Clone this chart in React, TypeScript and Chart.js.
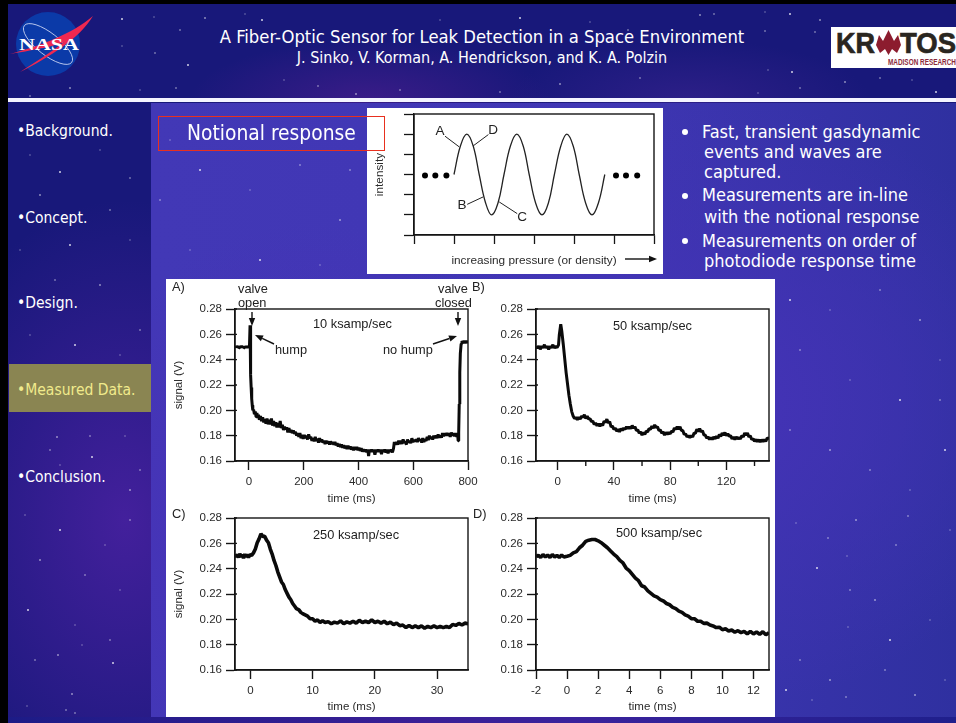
import React, { useEffect, useRef } from "react";
import { Chart, registerables } from "chart.js";

Chart.register(...registerables);

const FONT = '"Liberation Sans", Arial, sans-serif';
const SLIDE = '"DejaVu Sans Condensed", "Noto Sans", sans-serif';

const signalTicks = [0.16, 0.18, 0.2, 0.22, 0.24, 0.26, 0.28];
const ticksA = [0, 200, 400, 600, 800];
const ticksB = [0, 40, 80, 120];
const minorB = [20, 60, 100, 140];
const ticksC = [0, 10, 20, 30];
const ticksD = [-2, 0, 2, 4, 6, 8, 10, 12];

type P = [number, number];

const traceA: P[] = [
  [-51,.2505],[-48,.2496],[-45,.2506],[-42,.2497],[-39,.2504],[-36,.2495],[-33,.2506],[-30,.2497],[-27,.2507],[-24,.2496],[-21,.2503],[-18,.2495],[-15,.2506],[-12,.2497],[-9,.2505],[-6,.2495],[-3,.2506],[0,.2497],[2,.252],[4,.2672],[5,.258],[6,.242],[7,.228],[8,.218],[10,.209],[12,.204],[14,.2],
  [17,.2005],[20,.197],[23,.199],[26,.195],[29,.198],[32,.194],[35,.1965],[38,.1925],[42,.1955],[46,.1915],[50,.1945],[54,.1905],[58,.193],[62,.1895],[66,.1935],[70,.189],[74,.1925],[78,.189],[82,.1935],[86,.188],[90,.1915],[94,.1875],[98,.1905],[102,.1865],[106,.19],[110,.1865],[114,.1915],[118,.186],[122,.1885],[126,.1845],[130,.187],[134,.185],[138,.1865],[142,.1825],[146,.186],[150,.1825],[154,.1845],[158,.182],[162,.184],[166,.1815],[170,.183],[174,.18],[178,.182],[182,.179],[186,.182],[190,.178],[194,.1805],[198,.1775],[202,.1805],[206,.178],[210,.18],[214,.177],[218,.181],[222,.178],[226,.179],[230,.176],[234,.178],[238,.1755],[242,.179],[246,.176],[250,.1775],[254,.1745],[258,.178],[262,.175],[266,.177],[270,.1745],[274,.176],[278,.1735],[282,.176],[286,.174],[290,.1755],[294,.173],[298,.1755],[302,.1735],[306,.175],[310,.173],[314,.175],[318,.1725],[322,.174],[326,.1715],[330,.1735],[334,.171],[338,.173],[342,.1705],[346,.1725],[350,.17],[354,.172],[358,.1695],[362,.172],[366,.1695],[370,.1715],[374,.169],[378,.171],[382,.1685],[386,.171],[390,.169],[394,.171],[398,.1685],[402,.1705],[406,.168],[410,.17],[414,.1675],[418,.169],[422,.1675],[426,.169],[430,.167],[434,.169],[437,.164],[440,.169],[444,.1672],[448,.169],[452,.1672],[456,.169],[460,.165],[464,.169],[468,.1672],[472,.169],[476,.1672],[480,.169],[484,.1655],[488,.169],[492,.1672],[496,.169],[500,.1668],[504,.169],[508,.166],[512,.169],[516,.1672],[520,.169],[524,.1668],[528,.17],
  [531,.175],[535,.173],[539,.175],[543,.173],[547,.176],[551,.1735],[555,.176],[559,.1735],[563,.177],[567,.1745],[571,.175],[575,.173],[579,.177],[583,.1745],[587,.176],[591,.174],[595,.178],[599,.175],[603,.1765],[607,.1755],[611,.177],[615,.175],[619,.178],[623,.176],[627,.177],[631,.1745],[635,.178],[639,.175],[643,.177],[647,.176],[651,.179],[655,.1765],[659,.18],[663,.1775],[667,.179],[671,.177],[675,.18],[679,.178],[683,.18],[687,.178],[691,.181],[695,.1785],[699,.18],[703,.1785],[707,.182],[711,.1795],[715,.182],[719,.18],[723,.182],[727,.18],[731,.182],[735,.179],[739,.1825],[743,.18],[747,.182],[751,.1795],[755,.182],[759,.179],[762,.1815],[764,.176],[766,.182],[768,.205],[770,.23],[772,.245],[775,.2525],[778,.2548],[782,.2532],[786,.2548],[790,.2532],[794,.2548],[797,.2532],[800,.2548],
];

const traceB: P[] = [
  [-15.4,.2505],[-14.4,.2492],[-13.4,.2508],[-12.4,.2482],[-11.4,.2506],[-10.4,.2494],[-9.4,.2518],[-8.4,.2492],[-7.4,.2508],[-6.4,.248],[-5.4,.2506],[-4.4,.2494],[-3.4,.2518],[-2.4,.2492],[-1.4,.2506],[-.4,.2495],[.6,.2515],[1.2,.26],[2.2,.268],[3,.262],[4,.252],[5,.241],[6,.23],[7,.221],[8,.212],[9,.205],[10,.199],[11,.1955],[12,.1935],[13,.1945],[14,.1925],[15,.1945],[16,.193],[17,.1955],[18,.1945],[19,.1965],[20,.1935],[21,.1955],[22,.193],[23,.1935],[24,.191],[25,.1915],[26,.189],[27,.19],[28,.1878],[29,.1895],[30,.1875],[31,.1895],[32,.188],[33,.1915],[34,.1905],[35,.193],[36,.19],[37,.191],[38,.187],[39,.1875],[40,.185],[41,.186],[42,.1835],[43,.185],[44,.183],[45,.1855],[46,.1842],[47,.186],[48,.185],[49,.187],[50,.1855],[51,.187],[52,.1855],[53,.188],[54,.186],[55,.187],[56,.184],[57,.1845],[58,.182],[59,.183],[60,.1805],[61,.1825],[62,.181],[63,.1835],[64,.183],[65,.1855],[66,.185],[67,.1875],[68,.186],[69,.1885],[70,.1865],[71,.187],[72,.184],[73,.1845],[74,.182],[75,.183],[76,.1805],[77,.1825],[78,.181],[79,.1825],[80,.1815],[81,.1835],[82,.183],[83,.186],[84,.185],[85,.187],[86,.185],[87,.187],[88,.184],[89,.184],[90,.181],[91,.1815],[92,.179],[93,.18],[94,.1785],[95,.18],[96,.179],[97,.182],[98,.182],[99,.185],[100,.1835],[101,.1855],[102,.183],[103,.184],[104,.1805],[105,.1805],[106,.178],[107,.179],[108,.177],[109,.1785],[110,.177],[111,.179],[112,.1775],[113,.1795],[114,.178],[115,.181],[116,.1795],[117,.182],[118,.1805],[119,.1825],[120,.18],[121,.1815],[122,.1795],[123,.18],[124,.1775],[125,.179],[126,.177],[127,.179],[128,.1775],[129,.1785],[130,.1775],[131,.18],[132,.179],[133,.182],[134,.1805],[135,.182],[136,.179],[137,.18],[138,.177],[139,.1775],[140,.1755],[141,.177],[142,.1752],[143,.1768],[144,.175],[145,.1768],[146,.1752],[147,.1768],[148,.1755],[149,.178],[150.3,.178],
];

const traceC: P[] = [
  [-2.5,.2515],[-2.3,.2492],[-2.1,.2512],[-1.9,.2488],[-1.7,.2518],[-1.5,.2492],[-1.3,.2512],[-1.1,.2482],[-.9,.2515],[-.7,.2492],[-.5,.2512],[-.3,.2488],[-.1,.251],[.2,.2505],[.5,.2525],[.8,.2555],[1.1,.2605],[1.4,.2635],[1.7,.2675],[2,.2655],[2.3,.2655],[2.6,.2625],[2.9,.2605],[3.2,.2555],[3.5,.2515],[3.8,.2465],[4.1,.2425],[4.4,.2375],[4.7,.2335],[5,.2295],[5.3,.2275],[5.6,.2235],[5.9,.2205],[6.2,.2175],[6.5,.2155],[6.8,.2125],[7.1,.2105],[7.4,.2085],[7.8,.2075],[8.1,.2055],[8.4,.2045],[8.8,.2035],[9.2,.2025],[9.6,.2005],[10,.2005],[10.4,.1985],[10.8,.1995],[11.2,.1975],[11.6,.1988],[12,.1975],[12.5,.1982],[13,.1965],[13.5,.1978],[14,.197],[14.5,.1988],[15,.1965],[15.5,.198],[16,.197],[16.5,.1985],[17,.197],[17.5,.1992],[18,.1975],[18.5,.1985],[19,.1975],[19.5,.1995],[20,.1975],[20.5,.1985],[21,.197],[21.5,.1985],[22,.1965],[22.5,.1978],[23,.1958],[23.5,.197],[24,.195],[24.5,.1955],[25,.1935],[25.5,.1952],[26,.1935],[26.5,.1948],[27,.1935],[27.5,.1948],[28,.193],[28.5,.1945],[29,.1935],[29.5,.1948],[30,.1935],[30.5,.1945],[31,.1935],[31.5,.1945],[32,.1935],[32.5,.196],[33,.1952],[33.5,.1968],[34,.1955],[34.5,.197],[35,.1965],
];

const traceD: P[] = [
  [-2,.2495],[-1.85,.2505],[-1.7,.2488],[-1.55,.2512],[-1.4,.2492],[-1.25,.2508],[-1.1,.2488],[-.95,.2512],[-.8,.2492],[-.65,.2505],[-.5,.2488],[-.35,.2508],[-.2,.2492],[0,.2498],[.2,.2505],[.4,.2525],[.6,.2535],[.8,.2565],[1,.2585],[1.2,.2615],[1.4,.2625],[1.6,.263],[1.8,.263],[2,.262],[2.2,.2605],[2.4,.2585],[2.6,.2565],[2.8,.254],[3,.2515],[3.2,.2495],[3.4,.2465],[3.6,.2445],[3.8,.2405],[4,.2385],[4.2,.2355],[4.4,.2325],[4.6,.2305],[4.8,.2265],[5,.2255],[5.2,.2225],[5.4,.2205],[5.6,.2185],[5.8,.2175],[6,.2155],[6.2,.2145],[6.4,.2125],[6.6,.2115],[6.8,.2095],[7,.2085],[7.2,.2065],[7.4,.2055],[7.6,.2035],[7.8,.2025],[8,.2005],[8.2,.2005],[8.4,.1985],[8.6,.1985],[8.8,.1968],[9,.197],[9.2,.1955],[9.4,.1948],[9.6,.1935],[9.8,.1938],[10,.1918],[10.2,.1925],[10.4,.1908],[10.6,.1915],[10.8,.1898],[11,.191],[11.2,.1895],[11.4,.1905],[11.6,.1885],[11.8,.1905],[12,.1885],[12.2,.19],[12.4,.1882],[12.6,.1902],[12.8,.1878],[13,.1895],
];

const curveN: P[] = [
  [1,3],[1.16,4.41],[1.32,5],[1.48,4.41],[1.63,3],[1.79,1.59],[1.94,1],[2.1,1.59],[2.25,3],[2.41,4.41],[2.57,5],[2.73,4.41],[2.88,3],[3.04,1.59],[3.2,1],[3.36,1.59],[3.51,3],[3.67,4.41],[3.82,5],[3.98,4.41],[4.13,3],[4.29,1.59],[4.45,1],[4.61,1.59],[4.77,3],
];
const dotsN: P[] = [[0.275,2.95],[0.533,2.95],[0.81,2.95],[5.05,2.95],[5.3,2.95],[5.58,2.95]];
const leadersN: P[][] = [
  [[0.775,4.9],[1.13,4.37]],
  [[1.86,4.98],[1.48,4.42]],
  [[1.33,1.52],[1.73,1.89]],
  [[2.58,1.06],[2.13,1.64]],
];
const ticksN = [0, 1, 2, 3, 4, 5, 6];

const menu = [
  { label: "•Background.", y: 132 },
  { label: "•Concept.", y: 219 },
  { label: "•Design.", y: 304 },
  { label: "•Measured Data.", y: 391, hi: true },
  { label: "•Conclusion.", y: 478 },
];
const bullets = [
  { t: "Fast, transient gasdynamic", x: 702, y: 132 },
  { t: "events and waves are", x: 704, y: 152 },
  { t: "captured.", x: 704, y: 172 },
  { t: "Measurements are in-line", x: 702, y: 195 },
  { t: "with the notional response", x: 704, y: 217 },
  { t: "Measurements on order of", x: 702, y: 241 },
  { t: "photodiode response time", x: 704, y: 261 },
];
const bulletDots = [132, 196, 241];

const chartTexts = [
  { t: "A)", x: 172, y: 287 },
  { t: "B)", x: 472, y: 287 },
  { t: "C)", x: 172, y: 514 },
  { t: "D)", x: 473, y: 514 },
  { t: "valve", x: 238, y: 289 },
  { t: "open", x: 238, y: 303 },
  { t: "valve", x: 438, y: 289 },
  { t: "closed", x: 435, y: 303 },
  { t: "hump", x: 275, y: 350 },
  { t: "no hump", x: 383, y: 350 },
  { t: "10 ksamp/sec", x: 313, y: 324 },
  { t: "50 ksamp/sec", x: 613, y: 326 },
  { t: "250 ksamp/sec", x: 313, y: 535 },
  { t: "500 ksamp/sec", x: 616, y: 533 },
];
const curveLabels = [
  { t: "A", x: 440, y: 131 },
  { t: "D", x: 493, y: 130 },
  { t: "B", x: 462, y: 205 },
  { t: "C", x: 522, y: 217 },
];

const stars: P[] = [
  [122,19],[154,17],[180,30],[205,18],[155,53],[122,46],[188,65],[140,90],[176,88],[70,88],[30,96],[245,14],[262,20],[284,80],[318,86],[356,94],[400,90],[440,20],[520,18],[590,22],[628,30],[700,15],[714,14],[765,12],[790,14],[700,31],[765,31],[820,20],[815,32],[768,70],[792,72],[758,93],[800,88],[845,82],[880,78],[912,80],[936,92],[600,62],[640,78],[560,84],[500,92],
  [30,155],[60,172],[100,150],[130,178],[40,195],[110,210],[20,250],[70,245],[130,240],[55,280],[100,285],[140,330],[30,335],[75,345],[120,355],[90,436],[57,437],[50,450],[125,436],[92,457],[60,465],[66,482],[130,490],[140,470],[25,515],[60,530],[105,545],[130,520],[40,560],[85,575],[120,590],[28,610],[75,625],[110,640],[58,655],[35,660],[82,645],[113,663],[27,706],[75,713],[72,694],[66,710],
  [170,140],[200,170],[250,190],[300,165],[340,220],[160,200],[190,250],[260,260],[320,265],[350,170],[680,100],[700,280],[720,300],[790,300],[830,310],[880,290],[920,320],[800,350],[850,380],[900,400],[940,360],[790,430],[830,450],[870,470],[910,490],[945,450],[796,523],[828,538],[856,520],[908,516],[950,530],[817,568],[847,556],[896,545],[875,600],[850,590],[848,627],[890,640],[930,620],[800,660],[830,680],[885,670],[945,680],[786,690],[812,700],[846,697],[915,695],[940,400],[700,310],[690,420],[700,600],
];

const framePlugin = (minor: number[], nub: boolean) => ({
  id: "frame",
  afterDatasetsDraw(chart: any) {
    const { ctx, chartArea: a, scales } = chart;
    ctx.save();
    ctx.strokeStyle = "#151515";
    ctx.lineWidth = 1.4;
    ctx.strokeRect(a.left, a.top, a.right - a.left, a.bottom - a.top);
    minor.forEach((v) => {
      const px = scales.x.getPixelForValue(v);
      ctx.beginPath();
      ctx.moveTo(px, a.bottom);
      ctx.lineTo(px, a.bottom + 5);
      ctx.stroke();
    });
    if (nub) {
      scales.y.ticks.forEach((t: any) => {
        const py = scales.y.getPixelForValue(t.value);
        ctx.beginPath();
        ctx.moveTo(a.left, py);
        ctx.lineTo(a.left + 2, py);
        ctx.stroke();
      });
    }
    ctx.restore();
  },
});

type Box = { x: number; y: number; w: number; h: number; plotL: number; plotR: number; plotT: number; plotB: number };

function useChart(ref: React.RefObject<HTMLCanvasElement | null>, build: () => any) {
  useEffect(() => {
    if (!ref.current) return;
    const c = new Chart(ref.current, build());
    return () => c.destroy();
  }, []);
}

function axisFit(size: number, horizontal: boolean) {
  return (s: any) => {
    if (horizontal) s.height = size;
    else s.width = size;
    s.paddingLeft = 0;
    s.paddingRight = 0;
    s.paddingTop = 0;
    s.paddingBottom = 0;
  };
}

function Trace(props: {
  box: Box;
  data: P[];
  xMin: number;
  xMax: number;
  xTicks: number[];
  minor?: number[];
  yTitle: boolean;
  weight: number;
}) {
  const ref = useRef<HTMLCanvasElement>(null);
  const { box, data, xMin, xMax, xTicks, minor, yTitle, weight } = props;
  useChart(ref, () => ({
    type: "scatter",
    data: {
      datasets: [
        {
          data: data.map(([x, y]) => ({ x, y })),
          showLine: true,
          borderColor: "#0a0a0a",
          borderWidth: weight,
          borderJoinStyle: "bevel",
          pointRadius: 0,
          tension: 0,
        },
      ],
    },
    plugins: [framePlugin(minor || [], true)],
    options: {
      animation: false,
      responsive: false,
      events: [],
      layout: {
        padding: {
          left: 0,
          top: box.plotT - box.y,
          right: box.x + box.w - box.plotR,
          bottom: 0,
        },
      },
      plugins: { legend: { display: false }, tooltip: { enabled: false } },
      scales: {
        x: {
          type: "linear",
          min: xMin,
          max: xMax,
          afterBuildTicks: (s: any) => {
            s.ticks = xTicks.map((value) => ({ value }));
          },
          afterFit: axisFit(box.y + box.h - box.plotB, true),
          grid: { drawOnChartArea: false, tickLength: 9, tickWidth: 1.4, tickColor: "#151515" },
          border: { color: "#151515", width: 1.4 },
          ticks: {
            autoSkip: false,
            maxRotation: 0,
            padding: 5,
            color: "#2a2a2a",
            font: { family: FONT, size: 11.5 },
            callback: (v: any) => String(v),
          },
          title: {
            display: true,
            text: "time (ms)",
            color: "#2a2a2a",
            font: { family: FONT, size: 11.5 },
            padding: { top: 0, bottom: 0 },
          },
        },
        y: {
          type: "linear",
          min: 0.16,
          max: 0.28,
          afterBuildTicks: (s: any) => {
            s.ticks = signalTicks.map((value) => ({ value }));
          },
          afterFit: axisFit(box.plotL - box.x, false),
          grid: { drawOnChartArea: false, tickLength: 9, tickWidth: 1.4, tickColor: "#151515" },
          border: { color: "#151515", width: 1.4 },
          ticks: {
            padding: 4,
            color: "#2a2a2a",
            font: { family: FONT, size: 11.5 },
            callback: (v: any) => Number(v).toFixed(2),
          },
          title: {
            display: yTitle,
            text: "signal (V)",
            color: "#2a2a2a",
            font: { family: FONT, size: 11.5 },
            padding: { top: 6, bottom: 0 },
          },
        },
      },
    },
  }));
  return (
    <canvas
      ref={ref}
      width={box.w}
      height={box.h}
      style={{ position: "absolute", left: box.x, top: box.y, width: box.w, height: box.h }}
    />
  );
}

function Notional() {
  const ref = useRef<HTMLCanvasElement>(null);
  const box: Box = { x: 367, y: 108, w: 296, h: 166, plotL: 414, plotR: 654, plotT: 114, plotB: 235 };
  useChart(ref, () => ({
    type: "scatter",
    data: {
      datasets: [
        {
          data: curveN.map(([x, y]) => ({ x, y })),
          showLine: true,
          borderColor: "#222",
          borderWidth: 1.3,
          pointRadius: 0,
          tension: 0.4,
        },
        {
          data: dotsN.map(([x, y]) => ({ x, y })),
          showLine: false,
          pointRadius: 3,
          pointBackgroundColor: "#000",
          pointBorderWidth: 0,
        },
        ...leadersN.map((l) => ({
          data: l.map(([x, y]) => ({ x, y })),
          showLine: true,
          borderColor: "#222",
          borderWidth: 1,
          pointRadius: 0,
        })),
      ],
    },
    plugins: [framePlugin([], false)],
    options: {
      animation: false,
      responsive: false,
      events: [],
      layout: {
        padding: { left: 0, top: box.plotT - box.y, right: box.x + box.w - box.plotR, bottom: 0 },
      },
      plugins: { legend: { display: false }, tooltip: { enabled: false } },
      scales: {
        x: {
          type: "linear",
          min: 0,
          max: 6,
          afterBuildTicks: (s: any) => {
            s.ticks = ticksN.map((value) => ({ value }));
          },
          afterFit: axisFit(box.y + box.h - box.plotB, true),
          grid: { drawOnChartArea: false, tickLength: 9, tickWidth: 1.3, tickColor: "#151515" },
          border: { color: "#151515", width: 1.3 },
          ticks: { callback: () => "", padding: 0 },
          title: {
            display: true,
            text: "increasing pressure (or density)",
            color: "#2a2a2a",
            font: { family: FONT, size: 11.8 },
            padding: { top: 0, bottom: 6 },
          },
        },
        y: {
          type: "linear",
          min: 0,
          max: 6,
          afterBuildTicks: (s: any) => {
            s.ticks = ticksN.map((value) => ({ value }));
          },
          afterFit: axisFit(box.plotL - box.x, false),
          grid: { drawOnChartArea: false, tickLength: 10, tickWidth: 1.3, tickColor: "#151515" },
          border: { color: "#151515", width: 1.3 },
          ticks: { callback: () => "", padding: 0 },
          title: {
            display: true,
            text: "intensity",
            color: "#2a2a2a",
            font: { family: FONT, size: 11.8 },
            padding: { top: 6, bottom: 0 },
          },
        },
      },
    },
  }));
  return (
    <canvas
      ref={ref}
      width={box.w}
      height={box.h}
      style={{ position: "absolute", left: box.x, top: box.y, width: box.w, height: box.h }}
    />
  );
}

function Txt(p: { x: number; y: number; size: number; color: string; font: string; children: any; center?: boolean; spacing?: number; weight?: any }) {
  return (
    <div
      style={{
        position: "absolute",
        left: p.x,
        top: p.y,
        transform: p.center ? "translate(-50%,-50%)" : "translateY(-50%)",
        fontSize: p.size,
        color: p.color,
        fontFamily: p.font,
        whiteSpace: "nowrap",
        lineHeight: 1,
        letterSpacing: p.spacing,
        fontWeight: p.weight,
      }}
    >
      {p.children}
    </div>
  );
}

function Arrow({ x1, y1, x2, y2 }: { x1: number; y1: number; x2: number; y2: number }) {
  const a = Math.atan2(y2 - y1, x2 - x1);
  const L = 8;
  const W = 3.2;
  const bx = x2 - L * Math.cos(a);
  const by = y2 - L * Math.sin(a);
  const nx = -Math.sin(a) * W;
  const ny = Math.cos(a) * W;
  return (
    <g>
      <line x1={x1} y1={y1} x2={bx} y2={by} stroke="#111" strokeWidth={1.4} />
      <polygon points={`${x2},${y2} ${bx + nx},${by + ny} ${bx - nx},${by - ny}`} fill="#111" />
    </g>
  );
}

function NasaLogo() {
  return (
    <svg style={{ position: "absolute", left: 0, top: 0 }} width={110} height={90}>
      <circle cx={48} cy={44} r={32} fill="#0b3aa8" />
      <ellipse cx={48} cy={44} rx={30} ry={11} transform="rotate(38 48 44)" fill="none" stroke="#cfd8f5" strokeWidth={0.8} />
      <path d="M93 16 C 72 34, 40 46, 10 54 C 40 49, 55 46, 64 42 C 50 53, 35 62, 20 72 C 50 57, 80 38, 93 16 Z" fill="#ee2850" />
      <text x={19} y={50} fontFamily='"Liberation Serif", serif' fontWeight="bold" fontSize={17} fill="#fff" textLength={60} lengthAdjust="spacingAndGlyphs">
        NASA
      </text>
    </svg>
  );
}

function KratosLogo() {
  return (
    <svg style={{ position: "absolute", left: 831, top: 27 }} width={125} height={41}>
      <rect width={125} height={41} fill="#fff" />
      <text x={5} y={26} fontFamily={FONT} fontWeight="bold" fontSize={30} fill="#2a2620" stroke="#2a2620" strokeWidth={0.7} textLength={39} lengthAdjust="spacingAndGlyphs">
        KR
      </text>
      <path d="M45 18 L48 8 L52 14 L57.500 3 L63 14 L67 8 L70 18 L66 26 L61 22 L57.500 28 L54 22 L49 26 Z" fill="#8c1c2e" />
      <text x={69} y={26} fontFamily={FONT} fontWeight="bold" fontSize={30} fill="#2a2620" stroke="#2a2620" strokeWidth={0.7} textLength={56} lengthAdjust="spacingAndGlyphs">
        TOS
      </text>
      <text x={57} y={38} fontFamily={FONT} fontWeight="bold" fontSize={9} fill="#8c2a3a" textLength={68} lengthAdjust="spacingAndGlyphs">
        MADISON RESEARCH
      </text>
    </svg>
  );
}

export default function App() {
  const boxes: Record<string, Box> = {
    A: { x: 166, y: 279, w: 314, h: 227, plotL: 235, plotR: 468, plotT: 309, plotB: 461 },
    B: { x: 480, y: 279, w: 295, h: 227, plotL: 536, plotR: 769, plotT: 309, plotB: 461 },
    C: { x: 166, y: 510, w: 314, h: 204, plotL: 235, plotR: 468, plotT: 518, plotB: 670 },
    D: { x: 480, y: 510, w: 295, h: 204, plotL: 536, plotR: 769, plotT: 518, plotB: 670 },
  };
  return (
    <div
      style={{
        position: "absolute",
        left: 0,
        top: 0,
        width: 956,
        height: 723,
        overflow: "hidden",
        background:
          "radial-gradient(ellipse 220px 320px at 125px 520px, #43209c 0%, rgba(67,32,156,0) 100%), radial-gradient(ellipse 180px 60px at 370px 100px, #3a1c88 0%, rgba(58,28,136,0) 100%), radial-gradient(ellipse 180px 60px at 690px 100px, #2d1f88 0%, rgba(45,31,136,0) 100%), #18187a",
      }}
    >
      <div
        style={{
          position: "absolute",
          left: 151,
          top: 103,
          width: 805,
          height: 614,
          background:
            "radial-gradient(ellipse 260px 300px at 160px 420px, #4a2fb8 0%, rgba(74,47,184,0) 100%), radial-gradient(ellipse 330px 300px at 580px 300px, #4433b6 0%, rgba(68,51,182,0) 100%), linear-gradient(90deg, #4238b6 0%, #4036b4 55%, #2f30a0 100%)",
        }}
      />
      <div style={{ position: "absolute", left: 0, top: 717, width: 956, height: 6, background: "linear-gradient(90deg,#1c1b86 0%,#3a1f96 45%,#3a229c 60%,#1f1f8c 100%)" }} />
      <svg style={{ position: "absolute", left: 0, top: 0 }} width={956} height={723}>
        {stars.map(([x, y], i) => (
          <circle key={i} cx={x} cy={y} r={i % 3 === 0 ? 1 : 0.7} fill="#fff" opacity={i % 2 ? 0.5 : 0.8} />
        ))}
      </svg>
      <div style={{ position: "absolute", left: 0, top: 0, width: 8, height: 723, background: "#000" }} />
      <div style={{ position: "absolute", left: 0, top: 0, width: 956, height: 4, background: "#000" }} />
      <div style={{ position: "absolute", left: 8, top: 98, width: 948, height: 4, background: "#f4f4ff" }} />
      <div style={{ position: "absolute", left: 9, top: 364, width: 142, height: 48, background: "#8a8552" }} />

      <NasaLogo />
      <KratosLogo />

      <Txt x={482} y={37} size={18.3} color="#fff" font={SLIDE} center>
        A Fiber-Optic Sensor for Leak Detection in a Space Environment
      </Txt>
      <Txt x={482} y={58} size={16} color="#fff" font={SLIDE} center>
        J. Sinko, V. Korman, A. Hendrickson, and K. A. Polzin
      </Txt>
      {menu.map((m) => (
        <Txt key={m.label} x={17} y={m.y} size={15.5} color={m.hi ? "#f0ea8c" : "#fff"} font={SLIDE}>
          {m.label}
        </Txt>
      ))}

      <div style={{ position: "absolute", left: 367, top: 108, width: 296, height: 166, background: "#fff" }} />
      <Notional />
      {curveLabels.map((c) => (
        <Txt key={c.t} x={c.x} y={c.y} size={13.5} color="#222" font={FONT} center>
          {c.t}
        </Txt>
      ))}
      <div style={{ position: "absolute", left: 158, top: 116, width: 225, height: 33, border: "1px solid #e8301e", boxSizing: "content-box" }} />
      <Txt x={187} y={133} size={20.8} color="#fff" font={SLIDE}>
        Notional response
      </Txt>

      {bulletDots.map((y) => (
        <div key={y} style={{ position: "absolute", left: 682, top: y - 3, width: 6, height: 6, borderRadius: 3, background: "#fff" }} />
      ))}
      {bullets.map((b) => (
        <Txt key={b.t} x={b.x} y={b.y} size={18} color="#fff" font={SLIDE}>
          {b.t}
        </Txt>
      ))}

      <div style={{ position: "absolute", left: 166, top: 279, width: 609, height: 438, background: "#fff" }} />
      <Trace box={boxes.A} data={traceA} xMin={-51} xMax={800} xTicks={ticksA} yTitle weight={3} />
      <Trace box={boxes.B} data={traceB} xMin={-15.4} xMax={150.3} xTicks={ticksB} minor={minorB} yTitle={false} weight={3} />
      <Trace box={boxes.C} data={traceC} xMin={-2.47} xMax={34.97} xTicks={ticksC} yTitle weight={3.6} />
      <Trace box={boxes.D} data={traceD} xMin={-2} xMax={13} xTicks={ticksD} yTitle={false} weight={3.6} />

      {chartTexts.map((c) => (
        <Txt key={c.t + c.x} x={c.x} y={c.y} size={12.8} color="#222" font={FONT}>
          {c.t}
        </Txt>
      ))}

      <svg style={{ position: "absolute", left: 0, top: 0 }} width={956} height={723}>
        <Arrow x1={252} y1={312} x2={252} y2={326} />
        <Arrow x1={458} y1={312} x2={458} y2={326} />
        <Arrow x1={274} y1={344} x2={255} y2={335} />
        <Arrow x1={433} y1={344} x2={457} y2={336} />
        <Arrow x1={625} y1={259} x2={657} y2={259} />
      </svg>
    </div>
  );
}
